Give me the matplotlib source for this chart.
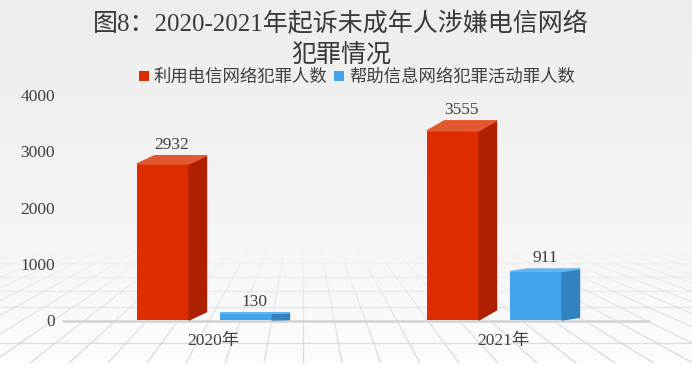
import numpy as np
import matplotlib.pyplot as plt
from matplotlib.patches import Polygon, Patch
from matplotlib.collections import LineCollection

plt.rcParams['font.family'] = ['Liberation Serif', 'Noto Sans CJK SC']

# donnees
years = ['2020年', '2021年']
series_names = ['利用电信网络犯罪人数', '帮助信息网络犯罪活动罪人数']
telecom = [2932, 3555]
helping = [130, 911]
yticks = [0, 1000, 2000, 3000, 4000]

title = '图8：2020-2021年起诉未成年人涉嫌电信网络\n犯罪情况'

# couleurs (face avant, cote, dessus)
red = ('#dc2c00', '#ae2000', '#e2582f')
blue = ('#42a5eb', '#3282bf', '#63b6ef')
txt = '#404040'

W, H = 692, 375
fig = plt.figure(figsize=(W / 100, H / 100), dpi=100)

# fond degrade + sol en perspective
bg = fig.add_axes([0, 0, 1, 1])
bg.set_xlim(0, W)
bg.set_ylim(H, 0)
bg.axis('off')
yy = np.arange(0, 364)
g = np.interp(yy, [0, 120, 250, 363], [0.93, 0.945, 0.965, 0.99])
img = np.stack([g, g, g], axis=-1)[:, None, :].repeat(2, axis=1)
bg.imshow(img, extent=(0, W, 363, 0), aspect='auto', zorder=0)

floor_top, floor_bot = 250, 363
vx, vy = 303, 150
segs, cols, lws = [], [], []
def fade(y):
    a = np.clip((y - floor_top) / (floor_bot - floor_top), 0, 1)
    return (0.84, 0.84, 0.84, 0.9 * a ** 0.8)

def add_line(x0, y0, x1, y1, n=10):
    for i in range(n):
        t0, t1 = i / n, (i + 1) / n
        ya, yb = y0 + (y1 - y0) * t0, y0 + (y1 - y0) * t1
        segs.append([(x0 + (x1 - x0) * t0, ya), (x0 + (x1 - x0) * t1, yb)])
        cols.append(fade((ya + yb) / 2))
        lws.append(1.0)

for y in [263, 277, 291, 307, 343]:
    segs.append([(0, y), (W, y)])
    cols.append(fade(y))
    lws.append(1.0)
# bord avant du sol (niveau 0)
segs.append([(62, 321), (650, 321)])
cols.append((0.82, 0.82, 0.82, 1))
lws.append(1.8)
for k in range(-30, 30):
    xb = vx + k * 39
    xt = vx + (xb - vx) * (floor_top - vy) / (floor_bot - vy)
    add_line(xt, floor_top, xb, floor_bot)
bg.add_collection(LineCollection(segs, colors=cols, linewidths=lws, zorder=1))

# axe des barres
ax = fig.add_axes([62 / W, 55 / H, (W - 62) / W, 225 / H])
ax.patch.set_alpha(0)
wall_scale = 1.057   # le mur du fond n'a pas la meme echelle que la face avant
ax.set_ylim(0, yticks[-1] * wall_scale)
ax.set_xlim(-0.4914, 1.681)
for s in ax.spines.values():
    s.set_visible(False)

x = np.arange(len(years))
width = 0.1793
offset = 0.1431
depth_x = 0.0603
shear = 0.053

def bar3d(xpos, values, colors):
    bars = ax.bar(xpos, values, width, color=colors[0], zorder=3, clip_on=False)
    for rect, v in zip(bars, values):
        l = rect.get_x()
        r = l + rect.get_width()
        h = rect.get_height()
        dy = h * shear
        ax.add_patch(Polygon([(r, 0), (r, h), (r + depth_x, h + dy), (r + depth_x, dy)],
                             closed=True, color=colors[1], zorder=3, clip_on=False))
        ax.add_patch(Polygon([(l, h), (r, h), (r + depth_x, h + dy), (l + depth_x, h + dy)],
                             closed=True, color=colors[2], zorder=3, clip_on=False))
        ax.text((l + r) / 2 + depth_x / 2, h + dy + 50, str(v), ha='center', va='bottom',
                fontsize=12.5, color=txt)

bar3d(x - offset, telecom, red)
bar3d(x + offset, helping, blue)

ax.set_yticks(np.array(yticks) * wall_scale, labels=[str(t) for t in yticks])
ax.set_xticks(x + depth_x / 2, labels=years)
ax.tick_params(axis='y', length=0, pad=5, labelsize=12.5, colors=txt)
ax.tick_params(axis='x', length=0, pad=9, labelsize=12.5, colors=txt)

fig.text(0.493, 1 - 12 / H, title, ha='center', va='top', fontsize=18,
         color='#3a3a3a', linespacing=1.45)

handles = [Patch(facecolor=red[0]), Patch(facecolor=blue[0])]
fig.legend(handles, series_names, loc='center', bbox_to_anchor=(357 / W, 1 - 78 / H),
           ncol=2, frameon=False, fontsize=12.5, handlelength=0.55, handleheight=0.55,
           handletextpad=0.3, columnspacing=0.4, labelcolor=txt)

fig.savefig('out.png', dpi=100)
